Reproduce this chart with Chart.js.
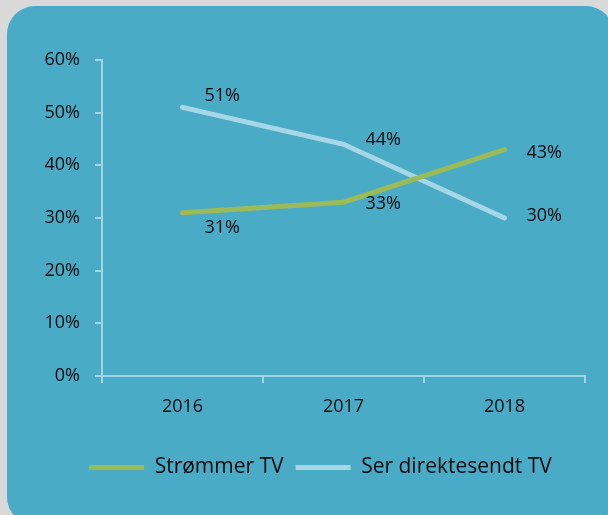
<!DOCTYPE html>
<html>
<head>
<meta charset="utf-8">
<script src="https://cdn.jsdelivr.net/npm/chart.js@4/dist/chart.umd.min.js"></script>
<style>
  body { margin: 0; background: #d9d9d9; overflow: hidden; }
  #panel { position: absolute; left: 7px; top: 6px; width: 607px; height: 519px; background: #4aabc6; border-radius: 28px; }
  #c { position: absolute; left: 0; top: 0; }
</style>
</head>
<body>
<div id="panel"></div>
<canvas id="c" width="608" height="515"></canvas>
<script>
  // Chart data
  const years = ['2016', '2017', '2018'];
  const streaming = [31, 33, 43];
  const liveTv = [51, 44, 30];
  const yTicks = [0, 10, 20, 30, 40, 50, 60];

  // vertical nudges for the value labels (pixels), per series
  const labelNudge = {
    0: [15, 2, 3],
    1: [-12, -4, -2]
  };

  const fontFamily = '"Open Sans", "Noto Sans", sans-serif';
  const axisColor = '#a3d4e3';

  // Draw the "51%" style labels next to each point
  const valueLabels = {
    id: 'valueLabels',
    afterDatasetsDraw(chart) {
      const ctx = chart.ctx;
      ctx.save();
      ctx.font = '18px ' + fontFamily;
      ctx.fillStyle = '#0a0a0a';
      ctx.textAlign = 'left';
      ctx.textBaseline = 'middle';
      chart.data.datasets.forEach((ds, i) => {
        chart.getDatasetMeta(i).data.forEach((pt, j) => {
          ctx.fillText(ds.data[j] + '%', pt.x + 22, pt.y + labelNudge[i][j]);
        });
      });
      ctx.restore();
    }
  };

  // the legend sits a bit right of centre in the original
  const legendShift = {
    id: 'legendShift',
    afterLayout(chart) {
      chart.legend.left += 28;
      chart.legend.right += 28;
    }
  };

  new Chart(document.getElementById('c').getContext('2d'), {
    type: 'line',
    data: {
      labels: years,
      datasets: [{
        label: 'Strømmer TV',
        data: streaming,
        borderColor: '#9bbb59',
        backgroundColor: '#9bbb59',
        borderWidth: 5,
        borderCapStyle: 'round',
        pointRadius: 0,
        tension: 0,
        fill: false
      }, {
        label: 'Ser direktesendt TV',
        data: liveTv,
        borderColor: '#a7d7e6',
        backgroundColor: '#a7d7e6',
        borderWidth: 5,
        borderCapStyle: 'round',
        pointRadius: 0,
        tension: 0,
        fill: false
      }]
    },
    options: {
      responsive: false,
      animation: false,
      layout: { padding: { left: 0, right: 23, top: 60, bottom: 27 } },
      plugins: {
        tooltip: { enabled: false },
        legend: {
          position: 'bottom',
          labels: {
            usePointStyle: true,
            pointStyle: 'line',
            pointStyleWidth: 55,
            color: '#0a0a0a',
            padding: 12,
            font: { family: fontFamily, size: 21 }
          }
        }
      },
      scales: {
        x: {
          offset: true,
          border: { color: axisColor, width: 2 },
          grid: { offset: true, drawOnChartArea: false, color: axisColor, lineWidth: 2, tickLength: 7 },
          ticks: { color: '#0a0a0a', padding: 13, font: { family: fontFamily, size: 18 } },
          afterFit(scale) { scale.height = 69; }
        },
        y: {
          min: 0,
          max: 60,
          afterBuildTicks(scale) { scale.ticks = yTicks.map(v => ({ value: v })); },
          border: { color: axisColor, width: 2 },
          grid: { drawOnChartArea: false, color: axisColor, lineWidth: 2, tickLength: 7 },
          ticks: {
            color: '#0a0a0a',
            padding: 15,
            font: { family: fontFamily, size: 18 },
            callback: v => v + '%'
          },
          afterFit(scale) { scale.width = 102; }
        }
      }
    },
    plugins: [valueLabels, legendShift]
  });
</script>
</body>
</html>
